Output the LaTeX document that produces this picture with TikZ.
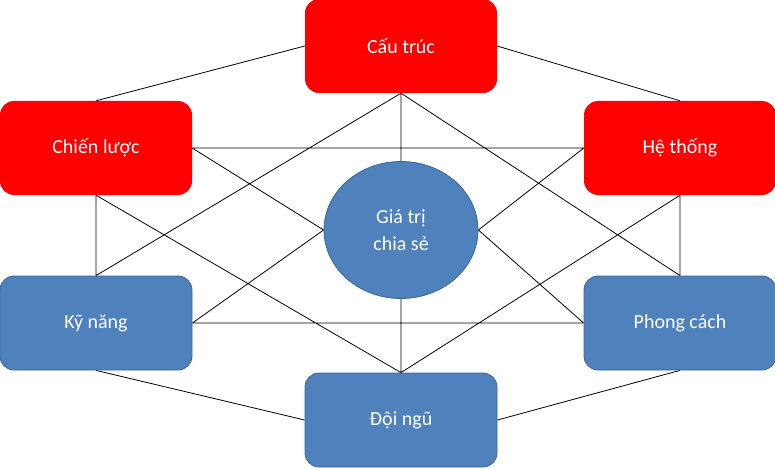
\documentclass[tikz,border=0pt]{standalone}
\usepackage{fontspec}
\setmainfont{Carlito}
\usetikzlibrary{shapes.geometric,backgrounds}
\definecolor{redbox}{HTML}{FF0000}
\definecolor{bluebox}{HTML}{4F81BD}
\definecolor{blueline}{HTML}{3A679A}
\begin{document}
\begin{tikzpicture}[x=1pt,y=-1pt,
  box/.style={rectangle,rounded corners=14pt,minimum width=192pt,minimum height=94pt,text=white,font=\fontsize{20}{24}\selectfont,inner sep=0pt},
  redb/.style={box,fill=redbox},
  blueb/.style={box,fill=bluebox,draw=blueline,line width=0.8pt},
  link/.style={draw=black,line width=0.8pt}]
\useasboundingbox (0,0) rectangle (775,468);
\node[redb] (ct) at (401,46) {Cấu trúc};
\node[redb] (cl) at (96,148) {Chiến lược};
\node[redb] (ht) at (680,148) {Hệ thống};
\node[blueb] (kn) at (96,323) {Kỹ năng};
\node[blueb] (pc) at (680,323) {Phong cách};
\node[blueb] (dn) at (401,420) {Đội ngũ};
\node[ellipse,minimum width=154pt,minimum height=137pt,fill=bluebox,draw=blueline,line width=0.8pt,text=white,align=center,font=\fontsize{20}{27}\selectfont,inner sep=0pt] (gt) at (401,230) {Giá trị\\chia sẻ};
\begin{scope}[on background layer]
\path[link] (ct.west) -- (cl.north) (ct.east) -- (ht.north)
 (cl.south) -- (kn.north) (ht.south) -- (pc.north)
 (kn.south) -- (dn.west) (pc.south) -- (dn.east)
 (cl.east) -- (ht.west) (kn.east) -- (pc.west)
 (ct.south) -- (gt.north) (gt.south) -- (dn.north)
 (cl.east) -- (gt.west) (kn.east) -- (gt.west)
 (ht.west) -- (gt.east) (pc.west) -- (gt.east)
 (ct.south) -- (kn.north) (ct.south) -- (pc.north)
 (dn.north) -- (cl.south) (dn.north) -- (ht.south);
\end{scope}
\end{tikzpicture}
\end{document}
